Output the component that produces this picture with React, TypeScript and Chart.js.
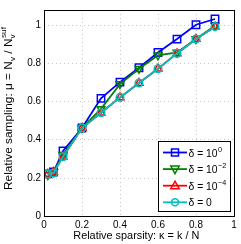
import React, { useEffect, useRef } from "react";
import { Chart, registerables } from "chart.js";

Chart.register(...registerables);

const kappa = [0.02, 0.05, 0.1, 0.2, 0.3, 0.4, 0.5, 0.6, 0.7, 0.8, 0.9];
const delta1 = [0.22, 0.23, 0.34, 0.46, 0.615, 0.70, 0.775, 0.855, 0.925, 1.0, 1.03];
const delta2 = [0.215, 0.23, 0.32, 0.46, 0.56, 0.69, 0.77, 0.84, 0.855, 0.925, 0.995];
const delta4 = [0.22, 0.23, 0.31, 0.46, 0.54, 0.62, 0.695, 0.77, 0.85, 0.925, 0.99];
const delta0 = [0.22, 0.225, 0.31, 0.46, 0.54, 0.62, 0.695, 0.77, 0.85, 0.925, 0.99];

const xTicks = [0, 0.2, 0.4, 0.6, 0.8, 1];
const yTicks = [0, 0.2, 0.4, 0.6, 0.8, 1];

const FONT = '"Liberation Sans", Arial, Helvetica, sans-serif';
const SX = 0.9;

type Seg = { t: string; sub?: string; sup?: string };

const legendItems: { color: string; style: string; segs: Seg[] }[] = [
  { color: "#0000ff", style: "rect", segs: [{ t: "δ = 10", sup: "0" }] },
  { color: "#008000", style: "tridown", segs: [{ t: "δ = 10", sup: "−2" }] },
  { color: "#ff0000", style: "triangle", segs: [{ t: "δ = 10", sup: "−4" }] },
  { color: "#00bfbf", style: "circle", segs: [{ t: "δ = 0" }] },
];

function richWidth(ctx: CanvasRenderingContext2D, segs: Seg[], size: number) {
  let w = 0;
  for (const s of segs) {
    ctx.font = `${size}px ${FONT}`;
    w += ctx.measureText(s.t).width;
    ctx.font = `${size * 0.7}px ${FONT}`;
    const a = s.sub ? ctx.measureText(s.sub).width : 0;
    const b = s.sup ? ctx.measureText(s.sup).width + 0.5 : 0;
    w += Math.max(a, b);
  }
  return w;
}

// draws rich text starting at (x, y) baseline, horizontally scaled by sx
function drawRich(ctx: CanvasRenderingContext2D, segs: Seg[], x: number, y: number, size: number, sx: number) {
  ctx.save();
  ctx.translate(x, y);
  ctx.scale(sx, 1);
  ctx.textBaseline = "alphabetic";
  ctx.textAlign = "left";
  let cx = 0;
  for (const s of segs) {
    ctx.font = `${size}px ${FONT}`;
    ctx.fillText(s.t, cx, 0);
    cx += ctx.measureText(s.t).width;
    ctx.font = `${size * 0.7}px ${FONT}`;
    let a = 0, b = 0;
    if (s.sub) { ctx.fillText(s.sub, cx, size * 0.28); a = ctx.measureText(s.sub).width; }
    if (s.sup) { ctx.fillText(s.sup, cx + 0.5, -size * 0.45); b = ctx.measureText(s.sup).width + 0.5; }
    cx += Math.max(a, b);
  }
  ctx.restore();
}

function drawMarker(ctx: CanvasRenderingContext2D, style: string, x: number, y: number, color: string) {
  ctx.save();
  ctx.strokeStyle = color;
  ctx.lineWidth = 1.5;
  ctx.beginPath();
  if (style === "rect") {
    ctx.rect(x - 3.5, y - 3.5, 7, 7);
  } else if (style === "circle") {
    ctx.arc(x, y, 3.5, 0, Math.PI * 2);
  } else if (style === "triangle") {
    ctx.moveTo(x, y - 4.5);
    ctx.lineTo(x + 4.2, y + 3);
    ctx.lineTo(x - 4.2, y + 3);
    ctx.closePath();
  } else {
    ctx.moveTo(x, y + 4.5);
    ctx.lineTo(x + 4.2, y - 3);
    ctx.lineTo(x - 4.2, y - 3);
    ctx.closePath();
  }
  ctx.stroke();
  ctx.restore();
}

const fmt = (v: number) => String(v);

const decorPlugin = {
  id: "decor",
  beforeDatasetsDraw(chart: any) {
    const { ctx, chartArea: a, scales } = chart;
    ctx.save();
    ctx.strokeStyle = "#c8c8c8";
    ctx.lineWidth = 1;
    ctx.setLineDash([1, 3]);
    for (const v of xTicks) {
      const px = Math.round(scales.x.getPixelForValue(v)) + 0.5;
      ctx.beginPath();
      ctx.moveTo(px, a.top);
      ctx.lineTo(px, a.bottom);
      ctx.stroke();
    }
    for (const v of yTicks) {
      const py = Math.round(scales.y.getPixelForValue(v)) + 0.5;
      ctx.beginPath();
      ctx.moveTo(a.left, py);
      ctx.lineTo(a.right, py);
      ctx.stroke();
    }
    ctx.restore();
  },
  afterDraw(chart: any) {
    const { ctx, chartArea: a, scales } = chart;
    ctx.save();
    // box
    ctx.strokeStyle = "#000";
    ctx.lineWidth = 1;
    ctx.setLineDash([]);
    const l = Math.round(a.left) + 0.5, r = Math.round(a.right) + 0.5;
    const t = Math.round(a.top) + 0.5, b = Math.round(a.bottom) + 0.5;
    ctx.strokeRect(l, t, r - l, b - t);

    // tick labels
    ctx.fillStyle = "#000";
    const TS = 11;
    for (const v of xTicks) {
      const segs = [{ t: fmt(v) }];
      const w = richWidth(ctx, segs, TS) * SX;
      const px = scales.x.getPixelForValue(v);
      drawRich(ctx, segs, px - w / 2, 228, TS, SX);
    }
    for (const v of yTicks) {
      const segs = [{ t: fmt(v) }];
      const w = richWidth(ctx, segs, TS) * SX;
      const py = scales.y.getPixelForValue(v);
      drawRich(ctx, segs, 41 - w, py + 3, TS, SX);
    }

    // legend
    const lx = 158.5, ly = 141.5, lw = 72, lh = 70;
    ctx.fillStyle = "#fff";
    ctx.fillRect(lx, ly, lw, lh);
    ctx.strokeStyle = "#000";
    ctx.lineWidth = 1;
    ctx.strokeRect(lx, ly, lw, lh);
    legendItems.forEach((it, i) => {
      const y = 152.5 + i * 16.6;
      ctx.strokeStyle = it.color;
      ctx.lineWidth = 1.8;
      ctx.beginPath();
      ctx.moveTo(163, y);
      ctx.lineTo(187, y);
      ctx.stroke();
      drawMarker(ctx, it.style, 175, y, it.color);
      ctx.fillStyle = "#000";
      drawRich(ctx, it.segs, 188.5, y + 4, 11, 0.94);
    });

    // axis titles
    ctx.fillStyle = "#000";
    const xs: Seg[] = [{ t: "Relative sparsity: κ = k / N" }];
    const xw = richWidth(ctx, xs, 11.5);
    const xsx = 126 / xw;
    drawRich(ctx, xs, 136.3 - 63, 238.5, 11.5, xsx);

    const ys: Seg[] = [
      { t: "Relative sampling: μ = N", sub: "v" },
      { t: " / N", sub: "v", sup: "suf" },
    ];
    const yw = richWidth(ctx, ys, 11.5);
    const ysx = 163 / yw;
    ctx.translate(11.5, 108.5);
    ctx.rotate(-Math.PI / 2);
    drawRich(ctx, ys, -81.5, 0, 11.5, ysx);
    ctx.restore();
  },
};

function mk(label: string, ys: number[], color: string, style: string, rotation: number, radius: number, order: number) {
  return {
    label,
    data: kappa.map((x, i) => ({ x, y: ys[i] })),
    showLine: true,
    borderColor: color,
    backgroundColor: "rgba(0,0,0,0)",
    borderWidth: 1.8,
    pointStyle: style,
    rotation,
    pointRadius: radius,
    pointBorderWidth: 1.5,
    pointBorderColor: color,
    pointBackgroundColor: "rgba(0,0,0,0)",
    order,
  };
}

export default function App() {
  const ref = useRef<HTMLCanvasElement>(null);
  useEffect(() => {
    document.body.style.margin = "0";
    const chart = new Chart(ref.current!, {
      type: "scatter",
      data: {
        datasets: [
          mk("δ = 10^0", delta1, "#0000ff", "rect", 0, 5.2, 4),
          mk("δ = 10^-2", delta2, "#008000", "triangle", 180, 4.5, 3),
          mk("δ = 10^-4", delta4, "#ff0000", "triangle", 0, 4.5, 2),
          mk("δ = 0", delta0, "#00bfbf", "circle", 0, 3.8, 1),
        ] as any,
      },
      options: {
        animation: false,
        responsive: false,
        layout: { padding: { top: 10, right: 7, left: 0, bottom: 0 } },
        plugins: { legend: { display: false }, tooltip: { enabled: false } },
        scales: {
          x: {
            type: "linear",
            min: 0,
            max: 1,
            afterBuildTicks: (s: any) => { s.ticks = xTicks.map((v) => ({ value: v })); },
            afterFit: (s: any) => { s.height = 28; },
            grid: { display: false, drawTicks: false },
            border: { display: false },
            ticks: { display: false },
          },
          y: {
            type: "linear",
            min: 0,
            max: 1.077,
            afterBuildTicks: (s: any) => { s.ticks = yTicks.map((v) => ({ value: v })); },
            afterFit: (s: any) => { s.width = 44; },
            grid: { display: false, drawTicks: false },
            border: { display: false },
            ticks: { display: false },
          },
        },
      },
      plugins: [decorPlugin],
    });
    return () => chart.destroy();
  }, []);
  return (
    <div style={{ width: 241, height: 244 }}>
      <canvas ref={ref} width={241} height={244} />
    </div>
  );
}
